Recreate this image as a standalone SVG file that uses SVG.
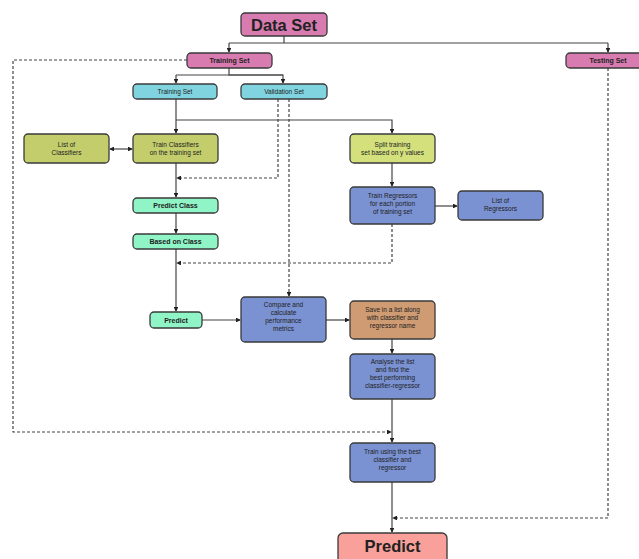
<svg xmlns="http://www.w3.org/2000/svg" width="639" height="559" viewBox="0 0 639 559">
<style>
.n{stroke:#3a3a3a;stroke-width:1.3}
.pink{fill:#d77bb0}.cyan{fill:#80d4df}.olive{fill:#c4cd6c}.lime{fill:#d3e07c}.mint{fill:#8ff4c6}.blue{fill:#7a91d2}.tan{fill:#cf9b72}.salmon{fill:#f8a099}
text{font-family:"Liberation Sans",Arial,sans-serif;fill:#222;text-anchor:middle}
.s{font-size:6.5px}
.b{font-size:7px;font-weight:bold}
.big{font-size:16.5px;font-weight:bold}
.c{fill:none;stroke:#444;stroke-width:1.2}
.d{fill:none;stroke:#444;stroke-width:1.2;stroke-dasharray:3 2}
</style>
<defs>
<marker id="a" viewBox="0 0 6 6" refX="5" refY="3" markerWidth="4" markerHeight="4" orient="auto-start-reverse"><path d="M0,0L6,3L0,6z" fill="#222"/></marker>
</defs>
<g id="connectors">
<path class="c" d="M284,36V43M229,43H608M176,75H283" />
<path class="c" d="M229,43V52" marker-end="url(#a)"/>
<path class="c" d="M608,43V52" marker-end="url(#a)"/>
<path class="c" d="M229,68V75H283V83" marker-end="url(#a)"/>
<path class="c" d="M176,75V83" marker-end="url(#a)"/>
<path class="c" d="M176,99V133" marker-end="url(#a)"/>
<path class="c" d="M176,120H392V133" marker-end="url(#a)"/>
<path class="c" d="M110,149H132" marker-start="url(#a)" marker-end="url(#a)"/>
<path class="c" d="M176,163V197" marker-end="url(#a)"/>
<path class="c" d="M176,213V233" marker-end="url(#a)"/>
<path class="c" d="M176,249V311" marker-end="url(#a)"/>
<path class="c" d="M392,163V186" marker-end="url(#a)"/>
<path class="c" d="M435,206H457" marker-end="url(#a)"/>
<path class="c" d="M202,320H240" marker-end="url(#a)"/>
<path class="c" d="M326,320H349" marker-end="url(#a)"/>
<path class="c" d="M392,339V353" marker-end="url(#a)"/>
<path class="c" d="M392,399V442" marker-end="url(#a)"/>
<path class="c" d="M392,482V532" marker-end="url(#a)"/>
<path class="d" d="M278,99V178H177" marker-end="url(#a)"/>
<path class="d" d="M289,99V296" marker-end="url(#a)"/>
<path class="d" d="M392,224V263H177" marker-end="url(#a)"/>
<path class="d" d="M187,60H13V432H391" marker-end="url(#a)"/>
<path class="d" d="M608,68V518H393" marker-end="url(#a)"/>
</g>
<g id="dataset"><rect class="n pink" x="241" y="13" width="86" height="23" rx="4"/><text class="big" x="284" y="30.5">Data Set</text></g>
<g id="trainingset"><rect class="n pink" x="187" y="53" width="85" height="15" rx="4"/><text class="b" x="229.5" y="63">Training Set</text></g>
<g id="testingset"><rect class="n pink" x="566" y="53" width="80" height="15" rx="4"/><text class="b" x="608" y="63">Testing Set</text></g>
<g id="trainingset2"><rect class="n cyan" x="133" y="84" width="84" height="15" rx="4"/><text class="s" x="175" y="94">Training Set</text></g>
<g id="validationset"><rect class="n cyan" x="241" y="84" width="86" height="15" rx="4"/><text class="s" x="284" y="94">Validation Set</text></g>
<g id="listclassifiers"><rect class="n olive" x="24" y="134" width="85" height="29" rx="4"/><text class="s" x="66.5" y="147">List of</text><text class="s" x="66.5" y="155">Classifiers</text></g>
<g id="trainclassifiers"><rect class="n olive" x="133" y="134" width="85" height="29" rx="4"/><text class="s" x="175.5" y="147">Train Classifiers</text><text class="s" x="175.5" y="155">on the training set</text></g>
<g id="split"><rect class="n lime" x="350" y="134" width="85" height="29" rx="4"/><text class="s" x="392.5" y="147">Split training</text><text class="s" x="392.5" y="155">set based on y values</text></g>
<g id="predictclass"><rect class="n mint" x="133" y="198" width="85" height="15" rx="4"/><text class="b" x="175.5" y="208">Predict Class</text></g>
<g id="basedonclass"><rect class="n mint" x="133" y="234" width="85" height="15" rx="4"/><text class="b" x="175.5" y="244">Based on Class</text></g>
<g id="trainregressors"><rect class="n blue" x="350" y="187" width="85" height="37" rx="4"/><text class="s" x="392.5" y="198">Train Regressors</text><text class="s" x="392.5" y="206">for each portion</text><text class="s" x="392.5" y="214">of training set</text></g>
<g id="listregressors"><rect class="n blue" x="458" y="191" width="85" height="29" rx="4"/><text class="s" x="500.5" y="203">List of</text><text class="s" x="500.5" y="211">Regressors</text></g>
<g id="predict"><rect class="n mint" x="150" y="312" width="52" height="16" rx="4"/><text class="b" x="176" y="322.5">Predict</text></g>
<g id="compare"><rect class="n blue" x="241" y="297" width="85" height="45" rx="4"/><text class="s" x="283.5" y="307">Compare and</text><text class="s" x="283.5" y="315">calculate</text><text class="s" x="283.5" y="323">performance</text><text class="s" x="283.5" y="331">metrics</text></g>
<g id="save"><rect class="n tan" x="350" y="301" width="85" height="38" rx="4"/><text class="s" x="392.5" y="312">Save in a list along</text><text class="s" x="392.5" y="320">with classifier and</text><text class="s" x="392.5" y="328">regressor name</text></g>
<g id="analyse"><rect class="n blue" x="350" y="354" width="85" height="45" rx="4"/><text class="s" x="392.5" y="364">Analyse the list</text><text class="s" x="392.5" y="372">and find the</text><text class="s" x="392.5" y="380">best performing</text><text class="s" x="392.5" y="388">classifier-regressor</text></g>
<g id="trainbest"><rect class="n blue" x="350" y="443" width="85" height="39" rx="4"/><text class="s" x="392.5" y="454">Train using the best</text><text class="s" x="392.5" y="462">classifier and</text><text class="s" x="392.5" y="470">regressor</text></g>
<g id="predictfinal"><rect class="n salmon" x="338" y="533" width="109" height="35" rx="5"/><text class="big" x="392.5" y="552">Predict</text></g>
</svg>
